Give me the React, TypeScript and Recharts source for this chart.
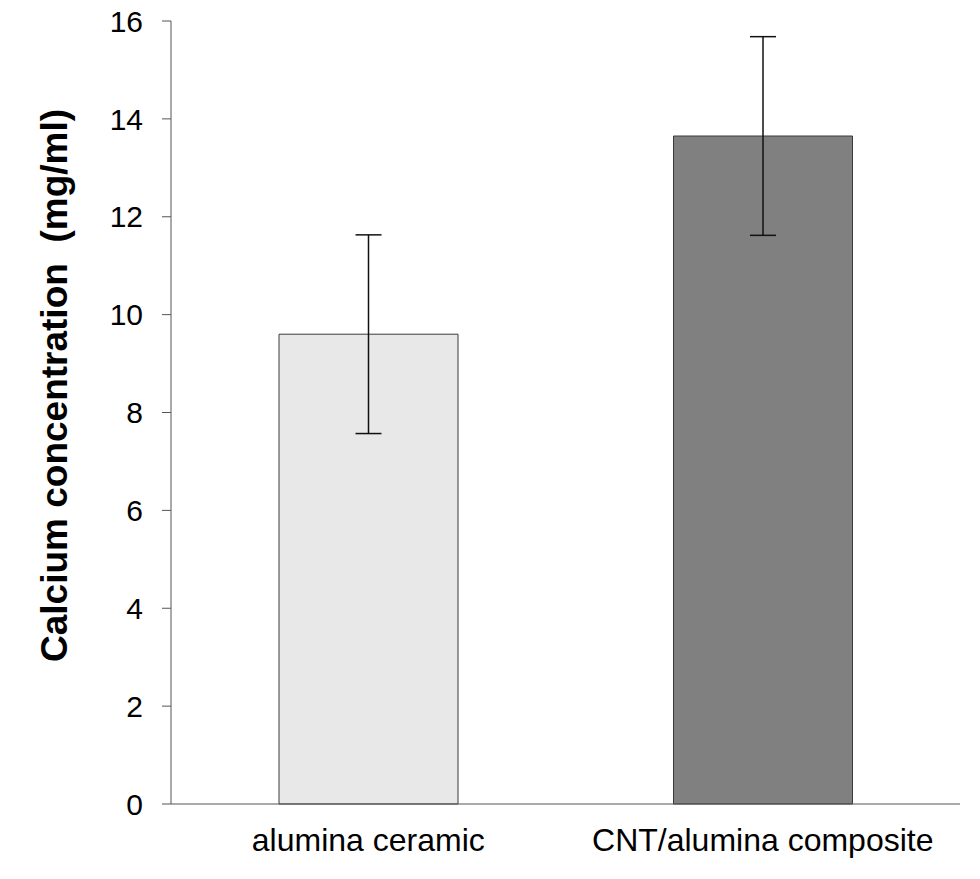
import React from 'react';
import { BarChart, Bar, XAxis, YAxis, ErrorBar, Cell, Label } from 'recharts';

// values
const categories = ['alumina ceramic', 'CNT/alumina composite'];
const calcium = [9.6, 13.65];
const calciumErr = [2.03, 2.03];
const yTicks = [0, 2, 4, 6, 8, 10, 12, 14, 16];

const barFills = ['#e8e8e8', '#808080'];
const FONT = '"Liberation Sans", Arial, sans-serif';

const chartData = categories.map((name, i) => ({
  name,
  calcium: calcium[i],
  err: calciumErr[i],
}));

function YTitle(props: any) {
  const { viewBox } = props;
  const cy = viewBox.y + viewBox.height / 2 - 27;
  const x = 67;
  return (
    <text
      x={x}
      y={cy}
      transform={`rotate(-90, ${x}, ${cy})`}
      textAnchor="middle"
      fontFamily={FONT}
      fontSize={37}
      fontWeight="bold"
      fill="#000"
      style={{ whiteSpace: 'pre' }}
    >
      {'Calcium concentration\u00a0 (mg/ml)'}
    </text>
  );
}

export default function App() {
  return (
    <div style={{ position: 'absolute', left: 0, top: 0, width: 980, height: 879, background: '#fff' }}>
      <BarChart
        width={980}
        height={879}
        data={chartData}
        margin={{ top: 21, right: 20, bottom: 0, left: 0 }}
        barSize={179}
      >
        <XAxis
          dataKey="name"
          height={75}
          tickLine={false}
          tickSize={0}
          tickMargin={24}
          stroke="#555"
          tick={{ fill: '#000', fontSize: 32, fontFamily: FONT }}
        />
        <YAxis
          width={171}
          domain={[0, 16]}
          ticks={yTicks}
          interval={0}
          tickSize={9}
          tickMargin={19}
          stroke="#555"
          tick={{ fill: '#000', fontSize: 30, fontFamily: FONT }}
        >
          <Label content={<YTitle />} />
        </YAxis>
        <Bar dataKey="calcium" stroke="#3a3a3a" strokeWidth={1} isAnimationActive={false}>
          {chartData.map((d, i) => (
            <Cell key={d.name} fill={barFills[i]} />
          ))}
          <ErrorBar dataKey="err" width={13} stroke="#111" strokeWidth={1.5} isAnimationActive={false} />
        </Bar>
      </BarChart>
    </div>
  );
}
